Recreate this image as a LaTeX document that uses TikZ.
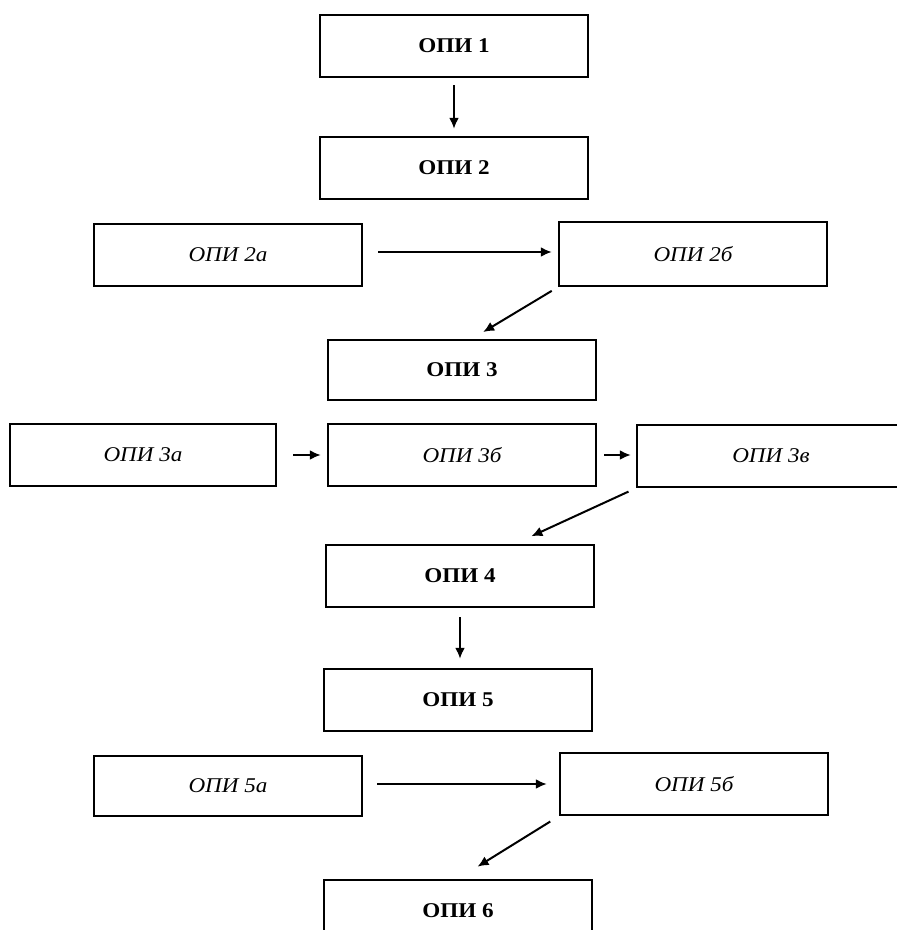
\documentclass[tikz,border=0pt]{standalone}
\usepackage{fontspec}
\setmainfont{Liberation Serif}[FakeStretch=1.1]
\usetikzlibrary{arrows.meta}

\tikzset{
    opi/.style={draw, line width=2.5pt, minimum width=268pt, minimum height=62pt,
        inner sep=0pt, font=\fontsize{21}{24}\selectfont\bfseries},
    subopi/.style={opi, font=\fontsize{21}{24}\selectfont\itshape},
    link/.style={->, line width=2pt}
}

\begin{document}
\begin{tikzpicture}[x=1pt, y=-1pt, >={Latex[length=11pt, width=10pt]}, thick]
    \useasboundingbox (0,0) rectangle (897,930);

    % Nodes
    \node[opi] (o1) at (454,46) {ОПИ 1};
    \node[opi] (o2) at (454,168) {ОПИ 2};
    \node[subopi] (o2a) at (228,255) {ОПИ 2а};
    \node[subopi, minimum height=64pt] (o2b) at (693,254) {ОПИ 2б};
    \node[opi, minimum height=60pt] (o3) at (462,370) {ОПИ 3};
    \node[subopi, minimum width=266pt] (o3a) at (143,455) {ОПИ 3а};
    \node[subopi] (o3b) at (462,455) {ОПИ 3б};
    \node[subopi] (o3v) at (771,456) {ОПИ 3в};
    \node[opi] (o4) at (460,576) {ОПИ 4};
    \node[opi] (o5) at (458,700) {ОПИ 5};
    \node[subopi, minimum height=60pt] (o5a) at (228,786) {ОПИ 5а};
    \node[subopi] (o5b) at (694,784) {ОПИ 5б};
    \node[opi] (o6) at (458,911) {ОПИ 6};

    % Paths
    \path[link] (o1) edge[shorten <=7pt, shorten >=7pt] (o2);
    \path[link] ([yshift=3pt]o2a.east) edge[shorten <=15pt, shorten >=6pt] ([yshift=3pt]o2a.east -| o2b.west);
    \path[link] (o2b.south west) edge[shorten <=7pt, shorten >=13pt] ([xshift=10pt]o3.north);
    \path[link] (o3a.east) edge[shorten <=16pt, shorten >=6pt] (o3a.east -| o3b.west);
    \path[link] (o3b.east) edge[shorten <=7pt, shorten >=5pt] (o3b.east -| o3v.west);
    \path[link] (o3v.south west) edge[shorten <=8pt, shorten >=18pt] ([xshift=55pt]o4.north);
    \path[link] (o4.south) edge[shorten <=9pt, shorten >=9pt] (o4.south |- o5.north);
    \path[link] ([yshift=2pt]o5a.east) edge[shorten <=14pt, shorten >=12pt] ([yshift=2pt]o5a.east -| o5b.west);
    \path[link] (o5b.south west) edge[shorten <=10pt, shorten >=23pt] (o6.north);
\end{tikzpicture}
\end{document}
